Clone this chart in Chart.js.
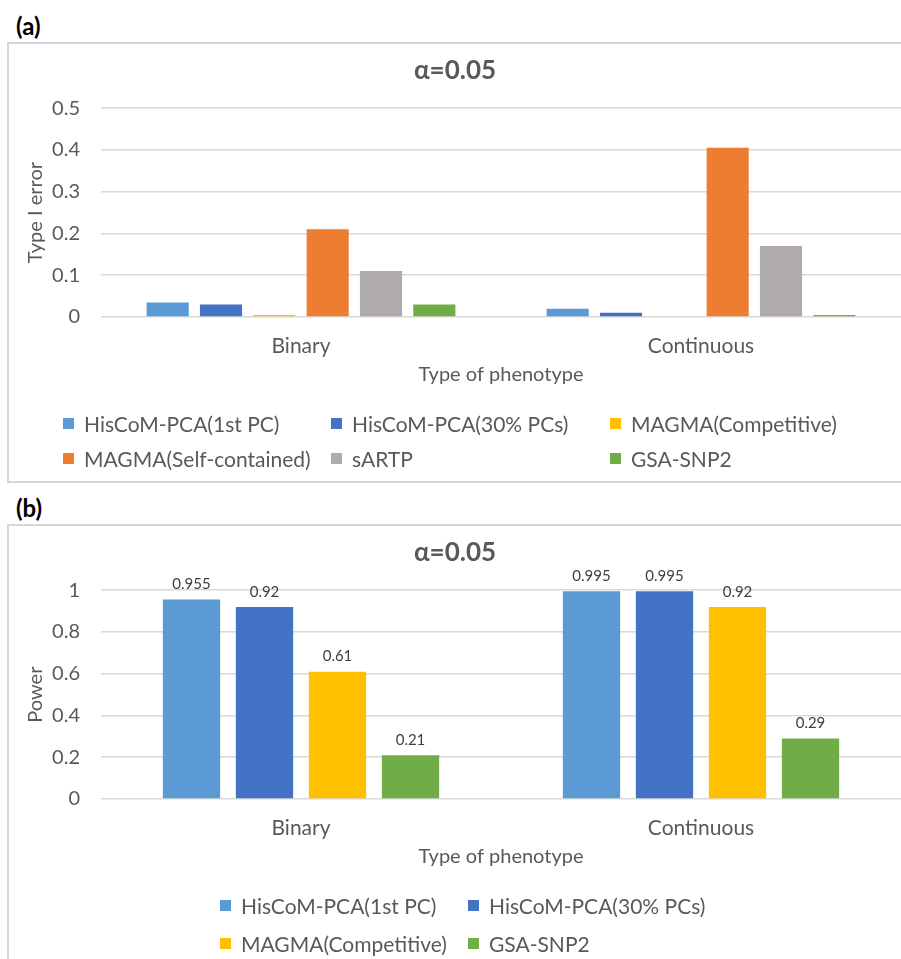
<!DOCTYPE html>
<html>
<head>
<meta charset="utf-8">
<script src="https://cdn.jsdelivr.net/npm/chart.js@4.4.0/dist/chart.umd.min.js"></script>
<style>
  html, body { margin: 0; padding: 0; background: #fff; }
  body { width: 901px; height: 959px; overflow: hidden; position: relative; font-family: Lato, sans-serif; }
  .panel-tag { position: absolute; font: bold 24px Lato, sans-serif; color: #000; }
  .box { position: absolute; border: 2px solid #d6d6d6; box-sizing: border-box; }
  canvas { position: absolute; }
  .leg { position: absolute; display: flex; align-items: center; height: 26px; font-size: 21px; color: #595959; white-space: nowrap; }
  .leg i { display: inline-block; width: 11px; height: 11px; margin-right: 10px; }
</style>
</head>
<body>
<div class="panel-tag" style="left:16px; top:11px;">(a)</div>
<div class="box" style="left:7px; top:42px; width:910px; height:441px;"></div>
<canvas id="chartA" width="904" height="437" style="left:9px; top:44px;"></canvas>

<div class="panel-tag" style="left:16px; top:493px;">(b)</div>
<div class="box" style="left:7px; top:524px; width:910px; height:470px;"></div>
<canvas id="chartB" width="904" height="440" style="left:9px; top:526px;"></canvas>

<script>
// categories and series
const categories = ['Binary', 'Continuous'];
const seriesA = ['HisCoM-PCA(1st PC)', 'HisCoM-PCA(30% PCs)', 'MAGMA(Competitive)',
                 'MAGMA(Self-contained)', 'sARTP', 'GSA-SNP2'];
const seriesB = ['HisCoM-PCA(1st PC)', 'HisCoM-PCA(30% PCs)', 'MAGMA(Competitive)', 'GSA-SNP2'];

// (a) Type I error, alpha = 0.05
const hiscom1stErr = [0.035, 0.02];
const hiscom30Err  = [0.03, 0.01];
const magmaCompErr = [0.005, 0];
const magmaSelfErr = [0.21, 0.405];
const sartpErr     = [0.11, 0.17];
const gsaErr       = [0.03, 0.005];

// (b) Power, alpha = 0.05
const hiscom1stPow = [0.955, 0.995];
const hiscom30Pow  = [0.92, 0.995];
const magmaCompPow = [0.61, 0.92];
const gsaPow       = [0.21, 0.29];

// axis ranges
const errAxis = { max: 0.5, step: 0.1 };
const powAxis = { max: 1, step: 0.2 };

const colors = {
  'HisCoM-PCA(1st PC)': '#5B9BD5',
  'HisCoM-PCA(30% PCs)': '#4472C4',
  'MAGMA(Competitive)': '#FFC000',
  'MAGMA(Self-contained)': '#ED7D31',
  'sARTP': '#AFABAB',
  'GSA-SNP2': '#70AD47'
};

const textColor = '#595959';
const gridColor = '#d9d9d9';

// value labels above bars (panel b)
const barLabels = {
  id: 'barLabels',
  afterDatasetsDraw(chart, args, opts) {
    if (!opts.display) return;
    const ctx = chart.ctx;
    ctx.save();
    ctx.font = '15px Lato';
    ctx.fillStyle = '#404040';
    ctx.textAlign = 'center';
    ctx.textBaseline = 'middle';
    chart.data.datasets.forEach((ds, i) => {
      chart.getDatasetMeta(i).data.forEach((bar, j) => {
        ctx.fillText(String(ds.data[j]), bar.x, bar.y - 15);
      });
    });
    ctx.restore();
  }
};

function makeChart(id, names, values, axis, yTitle, catPct, barPct, padBottom, showLabels) {
  const datasets = names.map((name, i) => ({
    label: name,
    data: values[i],
    backgroundColor: colors[name],
    categoryPercentage: catPct,
    barPercentage: barPct
  }));

  return new Chart(document.getElementById(id), {
    type: 'bar',
    data: { labels: categories, datasets: datasets },
    plugins: [barLabels],
    options: {
      responsive: false,
      animation: false,
      devicePixelRatio: 1,
      layout: { padding: { top: 0, left: 0, right: 12, bottom: padBottom } },
      plugins: {
        legend: { display: false },
        tooltip: { enabled: false },
        barLabels: { display: showLabels },
        title: {
          display: true,
          text: 'α=0.05',
          color: textColor,
          font: { family: 'Lato', size: 26, weight: 'bold' },
          padding: { top: 11, bottom: 22 }
        }
      },
      scales: {
        x: {
          grid: { display: false },
          border: { display: false },
          ticks: { color: textColor, font: { family: 'Lato', size: 21 }, padding: 9 },
          title: {
            display: true,
            text: 'Type of phenotype',
            color: textColor,
            font: { family: 'Lato', size: 20 },
            padding: { top: 0, bottom: 0 }
          },
          afterFit: (scale) => { scale.height = 70; }
        },
        y: {
          min: 0,
          max: axis.max,
          grid: { color: gridColor, lineWidth: 1.5, drawTicks: false },
          border: { display: false },
          ticks: {
            stepSize: axis.step,
            color: textColor,
            font: { family: 'Lato', size: 20 },
            padding: 21,
            callback: (value) => String(Number(value.toFixed(2)))
          },
          title: {
            display: true,
            text: yTitle,
            color: textColor,
            font: { family: 'Lato', size: 20 },
            padding: { top: 15, bottom: 0 }
          },
          afterFit: (scale) => { scale.width = 92; }
        }
      }
    }
  });
}

function makeLegend(names, cols, rows) {
  names.forEach((name, i) => {
    const item = document.createElement('div');
    item.className = 'leg';
    item.style.left = cols[i % cols.length] + 'px';
    item.style.top = (rows[Math.floor(i / cols.length)] - 13) + 'px';
    item.innerHTML = '<i style="background:' + colors[name] + '"></i>' + name;
    document.body.appendChild(item);
  });
}

makeChart('chartA', seriesA,
  [hiscom1stErr, hiscom30Err, magmaCompErr, magmaSelfErr, sartpErr, gsaErr],
  errAxis, 'Type I error', 0.8, 0.79, 94, false);

makeChart('chartB', seriesB,
  [hiscom1stPow, hiscom30Pow, magmaCompPow, gsaPow],
  powAxis, 'Power', 0.73, 0.785, 97, true);

makeLegend(seriesA, [63, 331, 610], [423, 458]);
makeLegend(seriesB, [220, 468], [905, 943]);
</script>
</body>
</html>
